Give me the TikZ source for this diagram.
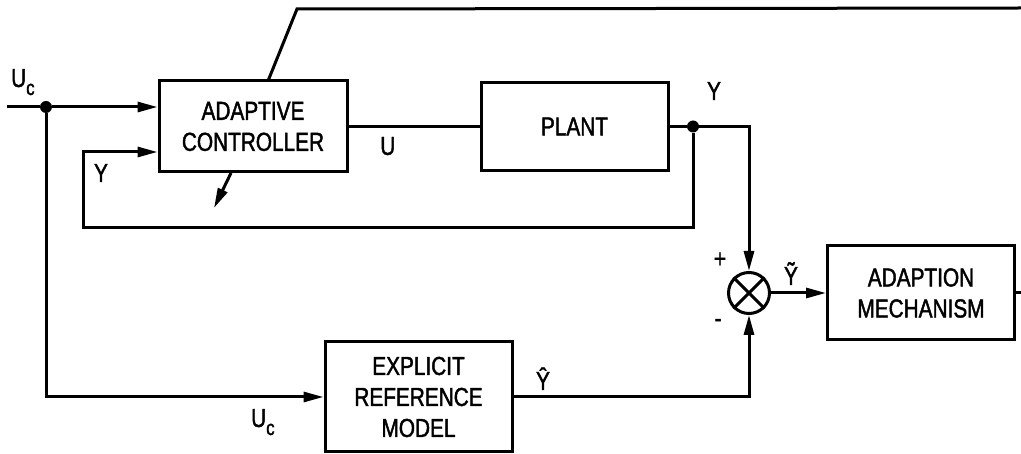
\documentclass[tikz,border=0pt]{standalone}
\usepackage{fontspec}
\setmainfont{Liberation Sans}[FakeStretch=0.8, FakeBold=1.6]
\usetikzlibrary{positioning, arrows.meta, calc}
\newcommand{\blockfont}{\fontsize{26}{31}\selectfont}
\newcommand{\Usubc}{U\raisebox{-8pt}{\fontsize{21}{21}\selectfont c}}
\tikzset{
  block/.style={rectangle, draw=black, line width=3pt, inner sep=0pt, align=center, font=\blockfont},
  sumjunction/.style={circle, draw=black, line width=3pt, minimum size=41pt, inner sep=0pt},
  junction/.style={circle, fill=black, minimum size=12pt, inner sep=0pt},
  wire/.style={line width=3pt},
  arrow/.style={line width=3pt, -{Triangle[length=20pt,width=10pt]}},
  lbl/.style={inner sep=0pt, font=\blockfont}
}

\begin{document}
\begin{tikzpicture}[x=1pt, y=-1pt]
    \useasboundingbox (0,0) rectangle (1021,454);

    % --- Bloques ---
    \node (ctrl) [block, minimum width=188pt, minimum height=91pt] at (253,126.5) {ADAPTIVE\\CONTROLLER};
    \node (plant) [block, minimum width=187pt, minimum height=88pt, right=131pt of ctrl] {PLANT};
    \node (ref) [block, minimum width=187pt, minimum height=110pt] at (418.5,397) {EXPLICIT\\REFERENCE\\MODEL};
    \node (sum) [sumjunction] at (749,293) {};
    \node (adapt) [block, minimum width=187pt, minimum height=94pt, right=55pt of sum] {ADAPTION\\MECHANISM};

    % --- Puntos de union y extremos libres ---
    \node (ucdot) [junction] at (46,107) {};
    \node (ydot) [junction] at (693,126.5) {};
    \coordinate (ucstart) at (7,107);
    \coordinate (fbcorner) at (83,228);
    \coordinate (fbin) at (83,152);
    \coordinate (outend) at (1021,293);
    \coordinate (topend) at (1021,8);
    \coordinate (topbend) at (297,9);
    \coordinate (tunein) at (268,81);
    \coordinate (tuneout) at (231,173);
    \coordinate (tunetip) at (214,208);

    % --- Lazo principal ---
    \draw [wire] (ucstart) -- (ucdot);
    \draw [arrow] (ucdot) -- (ucdot -| ctrl.west);
    \draw [wire] (ctrl.east) -- node[lbl, below=9pt, pos=0.3] {U} (plant.west);
    \draw [wire] (plant.east) -- (ydot);
    \draw [arrow] (ydot) |- (fbcorner) |- (fbin -| ctrl.west);

    % --- Modelo de referencia y comparador ---
    \draw [arrow] (ucdot) |- (ref.west);
    \draw [arrow] (ydot) -| (sum.north);
    \draw [arrow] (ref.east) -| (sum.south);
    \draw [wire] (sum.north east) -- (sum.south west) (sum.north west) -- (sum.south east);
    \draw [arrow] (sum.east) -- (adapt.west);

    % --- Ajuste de parametros ---
    \draw [wire] (adapt.east) -- (adapt.east -| outend);
    \draw [wire] (topend) -- (topbend) -- (tunein);
    \draw [arrow] (tuneout) -- (tunetip);

    % --- Etiquetas ---
    \node [lbl, anchor=base west] at (11,87) {\Usubc};
    \node [lbl, anchor=base west] at (251,427) {\Usubc};
    \node [lbl, anchor=base] at (101,182) {Y};
    \node [lbl, anchor=base] at (714,100) {Y};
    \node [lbl, anchor=base] at (543,390) {\^{Y}};
    \node [lbl, anchor=base] at (791,285) {\~{Y}};
    \node [lbl] at (720,260) {+};
    \node [lbl] at (718,323) {-};

\end{tikzpicture}
\end{document}
